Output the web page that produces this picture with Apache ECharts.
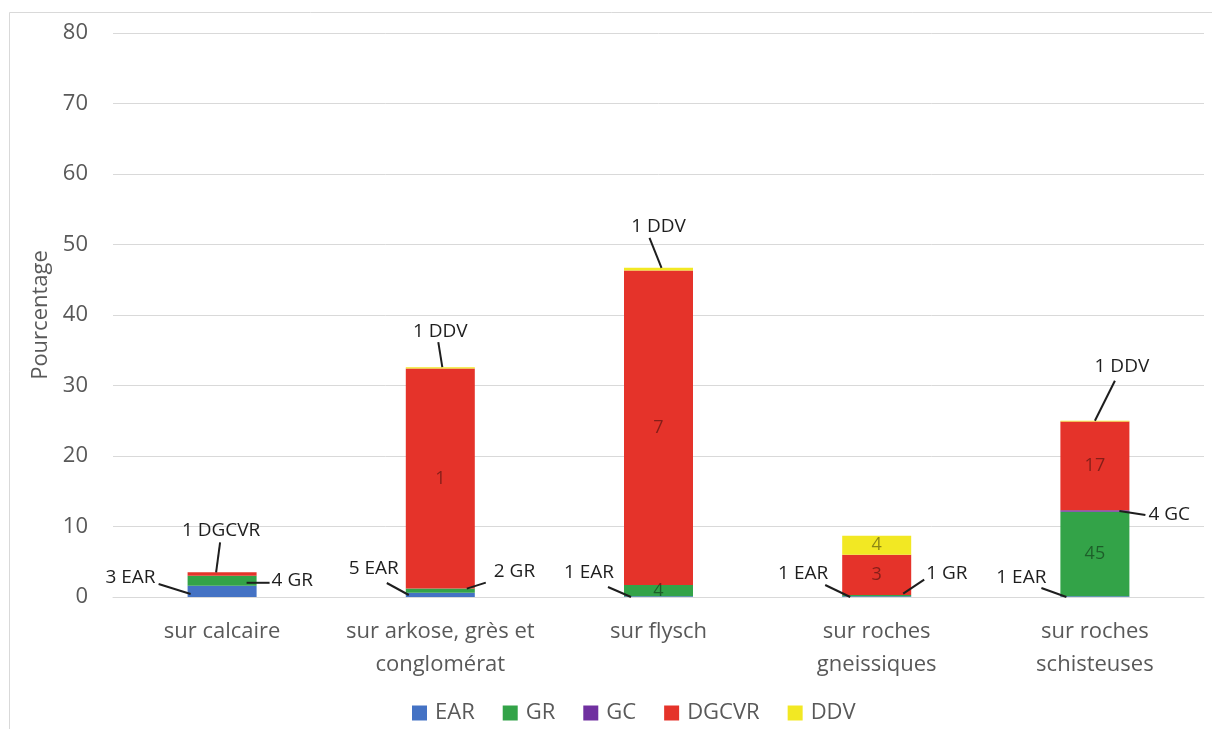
<!DOCTYPE html>
<html>
<head>
<meta charset="utf-8">
<script src="https://cdn.jsdelivr.net/npm/echarts@6/dist/echarts.min.js"></script>
<style>
html,body{margin:0;padding:0;background:#fff;}
#c{width:1212px;height:729px;}
</style>
</head>
<body>
<div id="c"></div>
<script>
// ---------- DATA ----------
const categories = ['sur calcaire', 'sur arkose, grès et\nconglomérat', 'sur flysch', 'sur roches\ngneissiques', 'sur roches\nschisteuses'];
const seriesNames = ['EAR', 'GR', 'GC', 'DGCVR', 'DDV'];
const valEAR   = [1.6, 0.6, 0.1, 0.1, 0.1];
const valGR    = [1.4, 0.6, 1.6, 0.2, 12.0];
const valGC    = [0, 0, 0, 0, 0.2];
const valDGCVR = [0.5, 31.2, 44.6, 5.7, 12.6];
const valDDV   = [0, 0.2, 0.4, 2.7, 0.1];
const cntEAR   = [3, 5, 1, 1, 1];
const cntGR    = [4, 2, 4, 1, 45];
const cntGC    = [null, null, null, null, 4];
const cntDGCVR = [1, 1, 7, 3, 17];
const cntDDV   = [null, 1, 1, 4, 1];
const yTicks   = [0, 10, 20, 30, 40, 50, 60, 70, 80];
const yAxisName = 'Pourcentage';

// ---------- STYLE / LAYOUT ----------
const BAR_W = 69;
const colors = { EAR: '#4472C4', GR: '#33A348', GC: '#7030A0', DGCVR: '#E5332A', DDV: '#F2E823' };
const values = { EAR: valEAR, GR: valGR, GC: valGC, DGCVR: valDGCVR, DDV: valDDV };
const counts = { EAR: cntEAR, GR: cntGR, GC: cntGC, DGCVR: cntDGCVR, DDV: cntDDV };
// I = inside label, C = callout with leader line
const labelMode = {
  EAR:   ['C', 'C', 'C', 'C', 'C'],
  GR:    ['C', 'C', 'I', 'C', 'I'],
  GC:    [null, null, null, null, 'C'],
  DGCVR: ['C', 'I', 'I', 'I', 'I'],
  DDV:   [null, 'C', 'C', 'I', 'C']
};
// callout geometry: anchor on bar segment, leader line offsets, text offset
const geom = {
  'EAR-0':   { a: 'bl', p0: [3, -3],  p1: [-29, -13], t: [-32, -19], al: 'right' },
  'EAR-1':   { a: 'bl', p0: [3, -2],  p1: [-19, -14], t: [-7, -28],  al: 'right' },
  'EAR-2':   { a: 'bl', p0: [7, 0],   p1: [-16, -10], t: [-10, -24], al: 'right' },
  'EAR-3':   { a: 'bl', p0: [8, 0],   p1: [-17, -12], t: [-14, -23], al: 'right' },
  'EAR-4':   { a: 'bl', p0: [6, 0],   p1: [-19, -9],  t: [-14, -19], al: 'right' },
  'GR-0':    { a: 'r',  p0: [-10, 2], p1: [13, 2],    t: [15, 0],    al: 'left' },
  'GR-1':    { a: 'r',  p0: [-8, -2], p1: [11, -8],   t: [19, -19],  al: 'left' },
  'GR-3':    { a: 'r',  p0: [-8, -2], p1: [13, -16],  t: [15, -22],  al: 'left' },
  'GC-4':    { a: 'r',  p0: [-10, 0], p1: [16, 4],    t: [19, 4],    al: 'left' },
  'DGCVR-0': { a: 't',  p0: [-6, 0],  p1: [-2, -30],  t: [-1, -42],  al: 'center' },
  'DDV-1':   { a: 't',  p0: [2, 0],   p1: [-2, -25],  t: [0, -36],   al: 'center' },
  'DDV-2':   { a: 't',  p0: [3, 0],   p1: [-9, -30],  t: [0, -41],   al: 'center' },
  'DDV-4':   { a: 't',  p0: [0, 0],   p1: [20, -40],  t: [27, -54],  al: 'center' }
};
const FONT = '"Open Sans", "DejaVu Sans", sans-serif';
const INK = '#1e1e1e';

function buildData(name) {
  return values[name].map(function (v, i) {
    const mode = labelMode[name][i];
    const c = counts[name][i];
    if (!mode || c == null) return { value: v, label: { show: false } };
    if (mode === 'I') {
      return {
        value: v,
        label: { show: true, position: 'inside', formatter: String(c), color: 'rgba(0,0,0,0.42)', fontSize: 18, fontFamily: FONT }
      };
    }
    return {
      value: v,
      label: { show: true, position: 'inside', formatter: c + ' ' + name, color: INK, fontSize: 19, fontFamily: FONT }
    };
  });
}

function anchorOf(g, r) {
  if (g.a === 'bl') return [r.x, r.y + r.height];
  if (g.a === 'r') return [r.x + r.width, r.y + r.height / 2];
  return [r.x + r.width / 2, r.y];
}

function layoutFn(p) {
  const g = geom[seriesNames[p.seriesIndex] + '-' + p.dataIndex];
  if (!g) return {};
  const a = anchorOf(g, p.rect);
  return { x: a[0] + g.t[0], y: a[1] + g.t[1], align: g.al, verticalAlign: 'middle' };
}

// leader-line records: [categoryIndex, segment base value, segment top value, geom key index]
const geomKeys = Object.keys(geom);
const leaderData = geomKeys.map(function (key, gi) {
  const parts = key.split('-');
  const sIdx = seriesNames.indexOf(parts[0]);
  const i = +parts[1];
  let base = 0;
  for (let k = 0; k < sIdx; k++) base += values[seriesNames[k]][i];
  return [i, base, base + values[parts[0]][i], gi];
});

function renderLeader(params, api) {
  const ci = api.value(0);
  const lo = api.coord([ci, api.value(1)]);
  const hi = api.coord([ci, api.value(2)]);
  const g = geom[geomKeys[api.value(3)]];
  const r = { x: lo[0] - BAR_W / 2, y: hi[1], width: BAR_W, height: lo[1] - hi[1] };
  const a = anchorOf(g, r);
  return {
    type: 'polyline',
    shape: { points: [[a[0] + g.p0[0], a[1] + g.p0[1]], [a[0] + g.p1[0], a[1] + g.p1[1]]] },
    style: { stroke: INK, lineWidth: 2, fill: null }
  };
}

const chart = echarts.init(document.getElementById('c'), null, { renderer: 'canvas' });
const barSeries = seriesNames.map(function (name) {
  return {
    name: name,
    type: 'bar',
    stack: 'total',
    barWidth: BAR_W,
    itemStyle: { color: colors[name] },
    labelLayout: layoutFn,
    data: buildData(name)
  };
});
barSeries.push({
  name: 'leaders',
  type: 'custom',
  silent: true,
  clip: false,
  z: 5,
  renderItem: renderLeader,
  data: leaderData
});

chart.setOption({
  animation: false,
  backgroundColor: '#ffffff',
  textStyle: { fontFamily: FONT },
  graphic: [{
    type: 'rect', left: 7, top: 10, silent: true,
    shape: { width: 1210, height: 725 },
    style: { fill: 'none', stroke: '#d9d9d9', lineWidth: 1 }
  }],
  grid: { left: 113, right: 8, top: 33, bottom: 132, containLabel: false },
  legend: {
    data: seriesNames,
    left: 407, top: 697,
    itemWidth: 15, itemHeight: 15, itemGap: 28,
    icon: 'rect',
    textStyle: { fontSize: 22, color: '#595959', fontFamily: FONT, padding: [0, 0, 0, 3] }
  },
  xAxis: {
    type: 'category',
    data: categories,
    axisTick: { show: false },
    axisLine: { show: true, lineStyle: { color: '#d9d9d9', width: 1 } },
    axisLabel: { fontSize: 22, color: '#595959', lineHeight: 33, margin: 18, fontFamily: FONT, interval: 0 }
  },
  yAxis: {
    type: 'value',
    min: yTicks[0], max: yTicks[yTicks.length - 1], interval: yTicks[1] - yTicks[0],
    name: yAxisName, nameLocation: 'middle', nameGap: 60,
    nameTextStyle: { fontSize: 22, color: '#595959', fontFamily: FONT },
    axisLine: { show: false }, axisTick: { show: false },
    axisLabel: { fontSize: 22, color: '#595959', margin: 25, fontFamily: FONT },
    splitLine: { show: true, lineStyle: { color: '#d9d9d9', width: 1 } }
  },
  series: barSeries
});
</script>
</body>
</html>
